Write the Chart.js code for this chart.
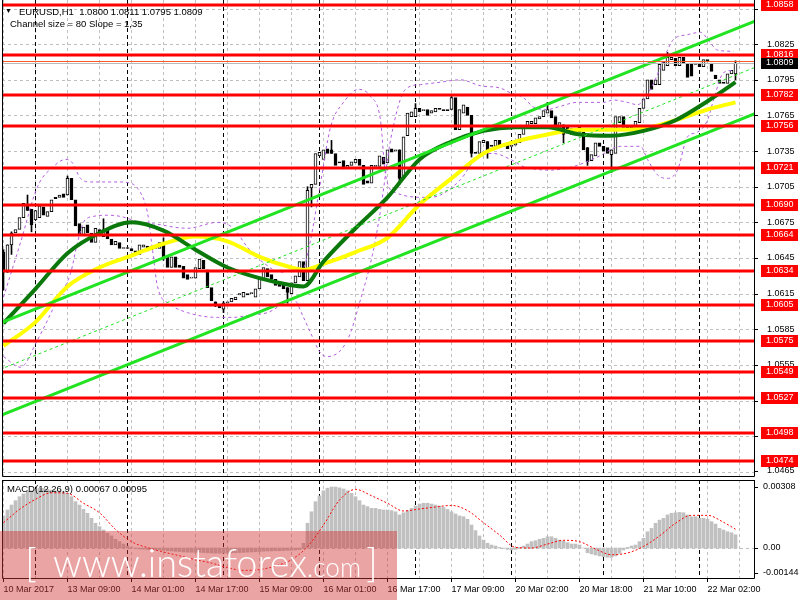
<!DOCTYPE html>
<html>
<head>
<meta charset="utf-8">
<script src="https://cdn.jsdelivr.net/npm/chart.js@4.4.1/dist/chart.umd.min.js"></script>
<style>
  html, body { margin: 0; padding: 0; background: #fff; }
  #wrap { position: relative; width: 800px; height: 600px; overflow: hidden; }
  .pane { position: absolute; left: 0; }
</style>
</head>
<body>
<div id="wrap">
  <div class="pane" style="top:0"><canvas id="main" width="800" height="480"></canvas></div>
  <div class="pane" style="top:478px"><canvas id="macd" width="800" height="122"></canvas></div>
</div>
<script>
// EURUSD H1, 10 Mar 17:00 .. 22 Mar 02:00 (one entry per hour bar)
const opens = [
  1.0650,1.0633,1.0656,1.0666,1.0669,1.0679,1.0690,1.0686,1.0677,1.0679,
  1.0688,1.0680,1.0684,1.0696,1.0696,1.0699,1.0698,1.0712,1.0694,1.0674,
  1.0664,1.0673,1.0666,1.0658,1.0669,1.0663,1.0669,1.0661,1.0656,1.0658,
  1.0653,1.0653,1.0653,1.0651,1.0648,1.0654,1.0655,1.0652,1.0653,1.0653,
  1.0658,1.0646,1.0637,1.0646,1.0639,1.0638,1.0631,1.0628,1.0628,1.0636,
  1.0643,1.0635,1.0620,1.0608,1.0606,1.0602,1.0607,1.0608,1.0610,1.0614,
  1.0612,1.0615,1.0615,1.0612,1.0619,1.0627,1.0636,1.0631,1.0627,1.0624,
  1.0623,1.0620,1.0615,1.0624,1.0629,1.0642,1.0626,1.0704,1.0707,1.0731,
  1.0728,1.0737,1.0736,1.0733,1.0726,1.0727,1.0721,1.0723,1.0725,1.0728,
  1.0723,1.0710,1.0708,1.0722,1.0722,1.0730,1.0725,1.0737,1.0735,1.0736,
  1.0712,1.0748,1.0764,1.0764,1.0771,1.0769,1.0770,1.0767,1.0768,1.0771,
  1.0770,1.0770,1.0770,1.0780,1.0753,1.0767,1.0772,1.0765,1.0734,1.0733,
  1.0742,1.0743,1.0740,1.0739,1.0744,1.0739,1.0740,1.0739,1.0740,1.0742,
  1.0749,1.0755,1.0758,1.0758,1.0762,1.0764,1.0767,1.0769,1.0764,1.0753,
  1.0757,1.0755,1.0749,1.0753,1.0755,1.0751,1.0738,1.0727,1.0731,1.0742,
  1.0739,1.0738,1.0732,1.0733,1.0759,1.0764,1.0755,1.0755,1.0754,1.0759,
  1.0771,1.0779,1.0795,1.0791,1.0791,1.0803,1.0807,1.0812,1.0813,1.0807,
  1.0814,1.0808,1.0809,1.0809,1.0809,1.0806,1.0812,1.0809,1.0799,1.0795,
  1.0793,1.0792,1.0800,1.0800
];
const closes = [
  1.0633,1.0656,1.0666,1.0669,1.0679,1.0691,1.0685,1.0673,1.0685,1.0689,
  1.0681,1.0684,1.0694,1.0695,1.0698,1.0696,1.0712,1.0694,1.0672,1.0664,
  1.0671,1.0666,1.0658,1.0670,1.0664,1.0669,1.0661,1.0656,1.0659,1.0653,
  1.0653,1.0653,1.0651,1.0649,1.0656,1.0656,1.0651,1.0655,1.0653,1.0658,
  1.0645,1.0637,1.0646,1.0637,1.0637,1.0628,1.0627,1.0629,1.0637,1.0644,
  1.0636,1.0620,1.0609,1.0606,1.0603,1.0607,1.0608,1.0611,1.0612,1.0615,
  1.0616,1.0614,1.0615,1.0619,1.0627,1.0637,1.0629,1.0627,1.0622,1.0621,
  1.0619,1.0616,1.0624,1.0630,1.0642,1.0626,1.0702,1.0707,1.0733,1.0734,
  1.0736,1.0733,1.0733,1.0723,1.0725,1.0720,1.0723,1.0726,1.0728,1.0723,
  1.0707,1.0708,1.0723,1.0723,1.0731,1.0724,1.0736,1.0734,1.0736,1.0712,
  1.0747,1.0767,1.0768,1.0771,1.0768,1.0770,1.0765,1.0769,1.0771,1.0770,
  1.0769,1.0769,1.0780,1.0753,1.0770,1.0774,1.0765,1.0733,1.0733,1.0743,
  1.0744,1.0736,1.0739,1.0744,1.0739,1.0740,1.0737,1.0740,1.0742,1.0749,
  1.0756,1.0760,1.0760,1.0763,1.0764,1.0769,1.0770,1.0763,1.0754,1.0759,
  1.0749,1.0750,1.0754,1.0750,1.0751,1.0736,1.0726,1.0732,1.0742,1.0739,
  1.0735,1.0733,1.0736,1.0764,1.0764,1.0755,1.0753,1.0754,1.0760,1.0771,
  1.0779,1.0795,1.0787,1.0795,1.0808,1.0810,1.0814,1.0814,1.0807,1.0814,
  1.0809,1.0797,1.0798,1.0808,1.0806,1.0812,1.0810,1.0802,1.0796,1.0792,
  1.0792,1.0800,1.0803,1.0809
];
// visible long wicks only
const wickIdx  = [0,1,2,6,7,16,25,40,53,55,71,76,77,82,99,103,112,117,121,136,140,146,152,166,183];
const wickHigh = [1.0652,1.0656,1.0667,1.0698,1.0686,1.0714,1.0678,1.0662,1.0608,1.0608,1.0620,1.0705,1.0707,1.0744,1.0736,1.0775,1.0781,1.0765,1.0743,1.0776,1.0757,1.0738,1.0736,1.0818,1.0811];
const wickLow  = [1.0618,1.0633,1.0648,1.0685,1.0667,1.0698,1.0663,1.0643,1.0604,1.0599,1.0607,1.0626,1.0688,1.0733,1.0707,1.0764,1.0770,1.0730,1.0729,1.0769,1.0742,1.0723,1.0717,1.0807,1.0795];

// moving averages (sampled along the bars)
const maIdx  = [0,8,16,24,32,40,48,56,64,72,75,80,88,96,104,112,120,128,136,144,152,160,168,176,183];
const maFast = [1.0590,1.0619,1.0649,1.0666,1.0675,1.0668,1.0652,1.0637,1.0628,1.0622,1.0621,1.0642,1.0670,1.0696,1.0728,1.0743,1.0752,1.0755,1.0755,1.0749,1.0748,1.0752,1.0761,1.0777,1.0793];
const maSlow = [1.0571,1.0591,1.0621,1.0637,1.0647,1.0657,1.0663,1.0659,1.0646,1.0637,1.0635,1.0640,1.0650,1.0662,1.0690,1.0712,1.0733,1.0743,1.0749,1.0753,1.0753,1.0754,1.0761,1.0770,1.0776];

// band curves (dashed purple)
const bandAIdx = [0,4.25,8.5,12.5,15.5,17.25,19.25,21.75,28.5,31.75,34.25,36,37.25,38.5,41.75,46,53.5,57.5,61.75,66,72.5,75,76.75,79.25,81,86,89.25,92.25,94.25,96.75,100.5,104.25,109.25,114.25,119.25,124.25,126.75,130,132.5,136,138.5,143.5,150,152.5,156,158.5,160,162.5,166,167.5,171,174.25,176.75,178.5,182.5];
const bandAVal = [1.0612,1.0658,1.0705,1.0722,1.0728,1.0725,1.0712,1.0709,1.0709,1.0708,1.0700,1.0683,1.0652,1.0621,1.0606,1.0599,1.0595,1.0595,1.0597,1.0599,1.0610,1.0595,1.0582,1.0565,1.0562,1.0576,1.0610,1.0648,1.0685,1.0744,1.0787,1.0791,1.0793,1.0795,1.0790,1.0788,1.0784,1.0780,1.0772,1.0770,1.0772,1.0776,1.0776,1.0778,1.0776,1.0774,1.0778,1.0792,1.0820,1.0829,1.0833,1.0835,1.0826,1.0820,1.0819];
const bandBIdx = [0,4.25,8.5,13.5,16.75,18.5,20,22.5,26,29.25,34.25,39.25,42.5,46,53.5,57.5,61,65,69.25,72.5,75,76.75,79.25,81.75,85,88.75,91.75,94.25,95.5,98,106,109.25,114.25,118.5,122.5,126.75,130,136.75,142.5,148.5,154.25,159.25,161,163.5,166,168.5,171,173.5,176,177.5,180,182.5];
const bandBVal = [1.0562,1.0553,1.0576,1.0610,1.0632,1.0658,1.0675,1.0680,1.0681,1.0680,1.0675,1.0673,1.0671,1.0670,1.0675,1.0670,1.0654,1.0641,1.0633,1.0635,1.0637,1.0660,1.0708,1.0755,1.0776,1.0787,1.0781,1.0761,1.0715,1.0700,1.0696,1.0698,1.0711,1.0730,1.0733,1.0728,1.0722,1.0719,1.0722,1.0730,1.0739,1.0739,1.0728,1.0715,1.0712,1.0719,1.0747,1.0751,1.0761,1.0778,1.0801,1.0803];

// regression channel, size 80, slope 1.35
const chanIdx   = [-1, 189];
const chanUpper = [1.0590, 1.0846];
const chanMid   = [1.0551, 1.0807];
const chanLower = [1.0512, 1.0768];

const levels = [1.0858,1.0816,1.0782,1.0756,1.0721,1.0690,1.0664,1.0634,1.0605,1.0575,1.0549,1.0527,1.0498,1.0474];
const askPrice = 1.0811;
const bidPrice = 1.0809;
const priceTicks = [1.0465,1.0495,1.0525,1.0555,1.0585,1.0615,1.0645,1.0675,1.0705,1.0735,1.0765,1.0795,1.0825,1.0855];

const daySeps = [8,31,55,79,103,127,150,174];
const labelIdx = [0,16,32,48,64,80,96,112,128,144,160,176];
const timeLabels = ['10 Mar 2017','13 Mar 09:00','14 Mar 01:00','14 Mar 17:00','15 Mar 09:00','16 Mar 01:00',
  '16 Mar 17:00','17 Mar 09:00','20 Mar 02:00','20 Mar 18:00','21 Mar 10:00','22 Mar 02:00'];

// MACD(12,26,9)
const macdHist = [
  0.00162,0.00192,0.00217,0.00239,0.00259,0.00273,0.00284,0.00289,0.00296,0.00301,
  0.00301,0.00296,0.00293,0.00289,0.00289,0.00284,0.00276,0.00259,0.00234,0.00217,
  0.00195,0.00175,0.00150,0.00125,0.00108,0.00091,0.00074,0.00061,0.00044,0.00032,
  0.00020,0.00010,0.00002,-0.00003,-0.00005,-0.00006,-0.00008,-0.00009,-0.00010,-0.00010,
  -0.00012,-0.00014,-0.00015,-0.00017,-0.00018,-0.00020,-0.00021,-0.00022,-0.00022,-0.00022,
  -0.00023,-0.00024,-0.00025,-0.00026,-0.00026,-0.00026,-0.00025,-0.00025,-0.00024,-0.00023,
  -0.00022,-0.00021,-0.00020,-0.00019,-0.00018,-0.00016,-0.00015,-0.00015,-0.00014,-0.00014,
  -0.00013,-0.00012,-0.00011,-0.00010,-0.00008,0.00024,0.00125,0.00183,0.00234,0.00263,
  0.00289,0.00302,0.00308,0.00308,0.00304,0.00298,0.00289,0.00276,0.00259,0.00239,
  0.00217,0.00209,0.00200,0.00200,0.00195,0.00192,0.00192,0.00189,0.00183,
  0.00167,0.00178,0.00189,0.00200,0.00212,0.00222,0.00226,0.00226,0.00222,0.00217,
  0.00212,0.00205,0.00195,0.00183,0.00172,0.00162,0.00158,0.00145,0.00116,0.00088,
  0.00061,0.00040,0.00024,0.00015,0.00010,0.00003,-0.00002,-0.00007,-0.00010,-0.00007,
  0.00003,0.00010,0.00020,0.00032,0.00037,0.00044,0.00049,0.00057,0.00057,0.00049,
  0.00040,0.00037,0.00027,0.00020,0.00020,0.00015,0.00000,-0.00024,-0.00030,-0.00035,
  -0.00040,-0.00044,-0.00047,-0.00047,-0.00040,-0.00027,-0.00010,0.00003,0.00010,0.00015,
  0.00032,0.00049,0.00082,0.00099,0.00125,0.00141,0.00150,0.00167,0.00175,0.00178,
  0.00180,0.00178,0.00167,0.00158,0.00158,0.00150,0.00150,0.00145,0.00133,0.00121,
  0.00099,0.00091,0.00082,0.00077,0.00067
];
const sigIdx = [0,4,8,12,16,20,24,28,32,36,40,44,48,52,56,60,64,68,72,76,80,84,88,92,96,100,104,108,112,116,120,124,128,132,136,140,144,148,152,156,160,164,168,172,176,180,183];
const macdSignal = [0.00128,0.00195,0.00246,0.00279,0.00276,0.00226,0.00178,0.00094,0.00032,0.00002,-0.00020,-0.00039,-0.00059,-0.00076,-0.00099,-0.00113,-0.00109,-0.00091,-0.00059,0.00007,0.00116,0.00242,0.00296,0.00264,0.00226,0.00187,0.00197,0.00207,0.00215,0.00189,0.00128,0.00066,0.00003,0.00000,0.00020,0.00039,0.00032,-0.00005,-0.00034,-0.00025,0.00008,0.00061,0.00125,0.00165,0.00165,0.00130,0.00095];
const macdTicks = [0.00308, 0, -0.00144];

const FONT = '"Liberation Sans", Arial, sans-serif';
const X_MIN = -0.375, X_MAX = 187.875;

function pts(xs, ys) { return xs.map((x, k) => ({ x: x, y: ys[k] })); }

function drawGrid(chart, hValues) {
  const { ctx, chartArea: a, scales } = chart;
  const xs = scales.x, ys = scales.y;
  ctx.save();
  ctx.beginPath();
  ctx.rect(a.left, a.top, a.right - a.left, a.bottom - a.top);
  ctx.clip();
  ctx.lineWidth = 1;
  ctx.strokeStyle = '#c0c0c0';
  ctx.setLineDash([3, 3]);
  for (let i = 0; i <= X_MAX; i += 8) {
    const px = Math.floor(xs.getPixelForValue(i)) + 0.5;
    ctx.beginPath(); ctx.moveTo(px, a.top); ctx.lineTo(px, a.bottom); ctx.stroke();
  }
  hValues.forEach(v => {
    const py = Math.round(ys.getPixelForValue(v)) + 0.5;
    ctx.beginPath(); ctx.moveTo(a.left, py); ctx.lineTo(a.right, py); ctx.stroke();
  });
  ctx.strokeStyle = '#000';
  ctx.setLineDash([4, 3]);
  daySeps.forEach(i => {
    const px = Math.floor(xs.getPixelForValue(i)) + 0.5;
    ctx.beginPath(); ctx.moveTo(px, a.top); ctx.lineTo(px, a.bottom); ctx.stroke();
  });
  ctx.restore();
}

function drawFrame(chart, withTop) {
  const { ctx, chartArea: a } = chart;
  ctx.save();
  ctx.strokeStyle = '#000';
  ctx.lineWidth = 1;
  ctx.beginPath();
  if (withTop) { ctx.moveTo(a.left + 0.5, a.top + 0.5); ctx.lineTo(a.right - 0.5, a.top + 0.5); }
  ctx.moveTo(a.left + 0.5, a.top); ctx.lineTo(a.left + 0.5, a.bottom - 0.5);
  ctx.lineTo(a.right - 0.5, a.bottom - 0.5); ctx.lineTo(a.right - 0.5, a.top);
  ctx.stroke();
  ctx.restore();
}

// right-hand price labels, placed through the y scale
function drawYLabels(chart, values, fmt, dx) {
  const { ctx, chartArea: a, scales: { y } } = chart;
  ctx.save();
  ctx.font = '9px ' + FONT;
  ctx.fillStyle = '#000';
  ctx.textBaseline = 'middle';
  values.forEach(v => {
    const py = Math.min(y.getPixelForValue(v), a.bottom - 6);
    ctx.fillRect(a.right, Math.round(py), 3, 1);
    ctx.fillText(fmt(v), a.right + dx, py);
  });
  ctx.restore();
}

const mainDecor = {
  id: 'mainDecor',
  beforeDatasetsDraw(chart) { drawGrid(chart, priceTicks); },
  afterDatasetsDraw(chart) {
    const { ctx, chartArea: a, scales: { y } } = chart;
    ctx.save();
    ctx.beginPath(); ctx.rect(a.left, a.top, a.right - a.left, a.bottom - a.top); ctx.clip();
    ctx.strokeStyle = '#ff0000';
    ctx.lineWidth = 3;
    levels.forEach(v => {
      const py = Math.round(y.getPixelForValue(v));
      ctx.beginPath(); ctx.moveTo(a.left, py); ctx.lineTo(a.right, py); ctx.stroke();
    });
    ctx.lineWidth = 1;
    ctx.strokeStyle = '#ff5a2a';
    let py = Math.round(y.getPixelForValue(askPrice)) + 0.5;
    ctx.beginPath(); ctx.moveTo(a.left, py); ctx.lineTo(a.right, py); ctx.stroke();
    ctx.strokeStyle = '#b8b8b8';
    py = Math.round(y.getPixelForValue(bidPrice)) + 0.5;
    ctx.beginPath(); ctx.moveTo(a.left, py); ctx.lineTo(a.right, py); ctx.stroke();
    ctx.restore();
  },
  afterDraw(chart) {
    const { ctx, chartArea: a, scales: { y } } = chart;
    drawFrame(chart, false);
    drawYLabels(chart, priceTicks, v => v.toFixed(4), 12);
    ctx.save();
    ctx.font = '9px ' + FONT;
    ctx.textBaseline = 'middle';
    levels.forEach(v => {
      const py = Math.round(y.getPixelForValue(v));
      ctx.fillStyle = '#ff0000';
      ctx.fillRect(a.right + 6, py - 6, 37, 12);
      ctx.fillStyle = '#fff';
      ctx.fillText(v.toFixed(4), a.right + 11, py);
    });
    const pb = Math.round(y.getPixelForValue(bidPrice));
    ctx.fillStyle = '#000';
    ctx.fillRect(a.right + 6, pb - 5, 37, 11);
    ctx.fillStyle = '#fff';
    ctx.fillText(bidPrice.toFixed(4), a.right + 11, pb);
    // window title
    ctx.fillStyle = '#000';
    ctx.textBaseline = 'alphabetic';
    ctx.font = '7px ' + FONT;
    ctx.fillText('\u25BC', 5, 13);
    ctx.font = '9.5px ' + FONT;
    ctx.fillText('EURUSD,H1  1.0800 1.0811 1.0795 1.0809', 19, 15);
    ctx.fillText('Channel size = 80 Slope = 1,35', 10, 27);
    ctx.restore();
  }
};

const macdDecor = {
  id: 'macdDecor',
  beforeDatasetsDraw(chart) { drawGrid(chart, [0]); },
  afterDraw(chart) {
    const { ctx, chartArea: a } = chart;
    drawFrame(chart, true);
    drawYLabels(chart, macdTicks, v => v === 0 ? '0.00' : v.toFixed(5), 8);
    ctx.save();
    ctx.fillStyle = '#000';
    ctx.font = '9.5px ' + FONT;
    ctx.textBaseline = 'alphabetic';
    ctx.fillText('MACD(12,26,9) 0.00067 0.00095', 7, a.top + 12);
    // watermark strip
    ctx.fillStyle = 'rgba(211,53,53,0.45)';
    ctx.fillRect(0, 53, 397, 69);
    ctx.fillStyle = '#ffffff';
    const wm = '300 40px Lato, ' + FONT;
    ctx.font = wm;
    ctx.fillText('[', 25, 99);
    ctx.fillText(']', 366, 99);
    const w1 = ctx.measureText('www.instaforex').width;
    ctx.save();
    ctx.translate(53, 99);
    ctx.scale(254 / w1, 1);
    ctx.fillText('www.instaforex', 0, 0);
    ctx.restore();
    ctx.font = '300 28px Lato, ' + FONT;
    const w2 = ctx.measureText('.com').width;
    ctx.save();
    ctx.translate(307, 99);
    ctx.scale(54 / w2, 1);
    ctx.fillText('.com', 0, 0);
    ctx.restore();
    ctx.restore();
  }
};

new Chart(document.getElementById('main'), {
  type: 'bar',
  data: {
    datasets: [
      {
        type: 'line', label: 'upper', data: pts(chanIdx, chanUpper),
        borderColor: '#22e322', borderWidth: 3, pointRadius: 0, order: 1
      },
      {
        type: 'line', label: 'lower', data: pts(chanIdx, chanLower),
        borderColor: '#22e322', borderWidth: 3, pointRadius: 0, order: 1
      },
      {
        type: 'line', label: 'mid', data: pts(chanIdx, chanMid),
        borderColor: '#22e322', borderWidth: 1, borderDash: [3, 3], pointRadius: 0, order: 1
      },
      {
        type: 'line', label: 'fast', data: pts(maIdx, maFast),
        borderColor: '#0b780b', borderWidth: 4, pointRadius: 0, cubicInterpolationMode: 'monotone', order: 2
      },
      {
        type: 'line', label: 'slow', data: pts(maIdx, maSlow),
        borderColor: '#ffff00', borderWidth: 4, pointRadius: 0, cubicInterpolationMode: 'monotone', order: 3
      },
      {
        type: 'line', label: 'bandA', data: pts(bandAIdx, bandAVal),
        borderColor: '#b45ee0', borderWidth: 1, borderDash: [3, 3], pointRadius: 0, cubicInterpolationMode: 'monotone', order: 4
      },
      {
        type: 'line', label: 'bandB', data: pts(bandBIdx, bandBVal),
        borderColor: '#b45ee0', borderWidth: 1, borderDash: [3, 3], pointRadius: 0, cubicInterpolationMode: 'monotone', order: 4
      },
      {
        label: 'candles',
        data: opens.map((o, i) => ({ x: i, y: [o, closes[i]] })),
        backgroundColor: c => closes[c.dataIndex] >= opens[c.dataIndex] ? '#ffffff' : '#000000',
        borderColor: '#000', borderWidth: 1, borderSkipped: false,
        barThickness: 3, minBarLength: 1, grouped: false, order: 5
      },
      {
        label: 'wicks',
        data: wickIdx.map((i, k) => ({ x: i, y: [wickLow[k], wickHigh[k]] })),
        backgroundColor: '#000', borderWidth: 0, barThickness: 1, grouped: false, order: 6
      }
    ]
  },
  options: {
    responsive: false,
    devicePixelRatio: 1,
    animation: false,
    events: [],
    layout: { padding: { left: 2, right: 0, top: 0, bottom: 3 }, autoPadding: false },
    plugins: { legend: { display: false }, tooltip: { enabled: false } },
    scales: {
      x: { type: 'linear', display: false, min: X_MIN, max: X_MAX, offset: false, grid: { offset: false } },
      y: {
        position: 'right', min: 1.04606, max: 1.08622,
        afterBuildTicks: s => { s.ticks = priceTicks.map(v => ({ value: v })); },
        afterFit: s => { s.width = 45; },
        grid: { display: false, drawTicks: false },
        border: { display: false },
        ticks: { display: false }
      }
    }
  },
  plugins: [mainDecor]
});

new Chart(document.getElementById('macd'), {
  type: 'bar',
  data: {
    datasets: [
      {
        type: 'line', label: 'signal', data: pts(sigIdx, macdSignal),
        borderColor: '#ff0000', borderWidth: 1, borderDash: [2, 2], pointRadius: 0,
        cubicInterpolationMode: 'monotone', order: 1
      },
      {
        label: 'macd', data: macdHist.map((v, i) => ({ x: i, y: v })),
        backgroundColor: '#c0c0c0', borderWidth: 0, barThickness: 3, order: 2
      }
    ]
  },
  options: {
    responsive: false,
    devicePixelRatio: 1,
    animation: false,
    events: [],
    layout: { padding: { left: 2, right: 0, top: 2, bottom: 0 }, autoPadding: false },
    plugins: { legend: { display: false }, tooltip: { enabled: false } },
    scales: {
      x: {
        type: 'linear', min: X_MIN, max: X_MAX, offset: false,
        afterBuildTicks: s => { s.ticks = labelIdx.map(v => ({ value: v })); },
        afterFit: s => { s.height = 21; },
        grid: { offset: false, drawOnChartArea: false, drawTicks: true, tickLength: 3, color: '#000' },
        border: { display: false },
        ticks: {
          font: { family: FONT, size: 9 }, color: '#000', padding: 2, align: 'start',
          autoSkip: false, maxRotation: 0, minRotation: 0,
          callback: (v, k) => timeLabels[k]
        }
      },
      y: {
        position: 'right', min: -0.001565, max: 0.003434,
        afterBuildTicks: s => { s.ticks = macdTicks.map(v => ({ value: v })); },
        afterFit: s => { s.width = 45; },
        grid: { display: false, drawTicks: false },
        border: { display: false },
        ticks: { display: false }
      }
    }
  },
  plugins: [macdDecor]
});
</script>
</body>
</html>
